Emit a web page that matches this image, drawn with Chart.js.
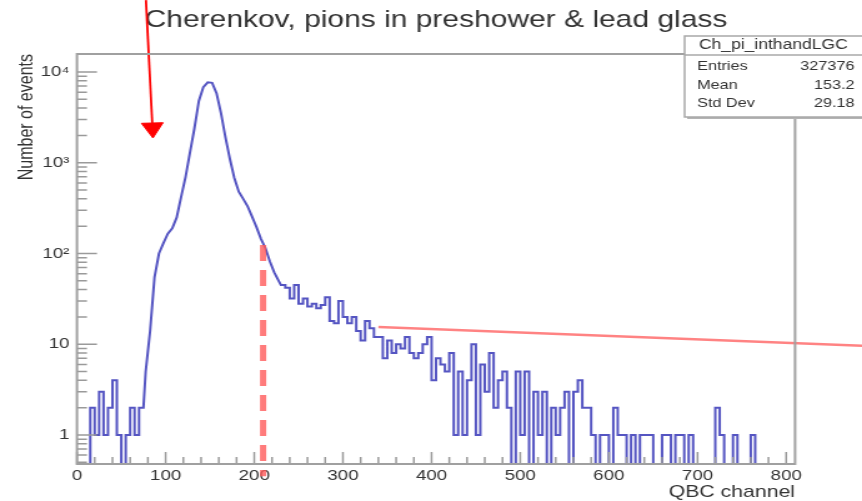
<!DOCTYPE html>
<html>
<head>
<meta charset="utf-8">
<script src="https://cdn.jsdelivr.net/npm/chart.js@4.4.1/dist/chart.umd.min.js"></script>
<style>
  html, body { margin: 0; padding: 0; background: #fff; overflow: hidden; }
  /* the reference picture is a ROOT canvas stretched sideways, so draw narrow and widen */
  #stage { width: 690px; height: 501px; transform: scaleX(1.2493); transform-origin: 0 0; }
</style>
</head>
<body>
<div id="stage"><canvas id="qbc"></canvas></div>
<script>
// QBC spectrum, 5-channel bins starting at channel 0
const binWidth = 5;
const counts = [
  0, 0, 0, 2, 1, 3, 1, 2, 4, 1, 0, 1, 2, 1, 2,
  5, 14, 55, 100, 130, 165, 190, 250, 420, 700, 1300, 2400, 4800, 6800, 7700,
  7600, 5800, 3500, 1900, 1100, 680, 480, 400, 330, 255, 195, 145, 115, 82, 62,
  50, 45, 42, 32, 45, 28, 32, 26, 28, 25, 27, 33, 18, 17, 30,
  20, 17, 20, 14, 11, 18, 15, 12, 12, 7, 11, 8, 10, 9, 12,
  8, 7, 8, 10, 12, 4, 7, 6, 5, 8, 1, 5, 1, 4, 10,
  1, 6, 3, 8, 2, 4, 5, 2, 0, 5, 1, 5, 0, 3, 1,
  3, 0, 2, 1, 2, 3, 0, 3, 4, 2, 2, 1, 0, 1, 1,
  0, 2, 1, 1, 0, 1, 0, 1, 1, 1, 0, 0, 1, 1, 0,
  1, 1, 0, 1, 0, 0, 0, 0, 0, 2, 1, 0, 0, 1, 0,
  0, 0, 1, 0, 0, 0, 0, 0, 0, 0, 0, 0
];

const xTickValues = [0, 100, 200, 300, 400, 500, 600, 700, 800];
const yTickValues = [1, 10, 100, 1000, 10000];
const yTickLabels = ['1', '10', '10²', '10³', '10⁴'];

// cut line, fitted tail and arrow marker, in channel / counts
const cutChannel = [210, 210];
const cutCounts = [124, 0.35];
const fitChannel = [340, 886];
const fitCounts = [15.5, 9.6];
const arrowChannel = [77.8, 85.2];
const arrowCounts = [62000, 2415];

const chartTitle = 'Cherenkov, pions in preshower & lead glass';
const statsName = 'Ch_pi_inthandLGC';
const statsLabels = ['Entries', 'Mean', 'Std Dev'];
const statsValues = ['327376', '153.2', '29.18'];

const fontFamily = "'Liberation Sans', Arial, sans-serif";
const textColor = '#333';
const zeroLevel = 0.1; // empty bins fall below the log axis

// the busy peak is drawn through bin centres (its real bins are finer than ours),
// the sparse edges as plain histogram steps
const smoothFrom = 15;
const smoothTo = 45;
function histogramPath() {
  const pts = [];
  counts.forEach((c, i) => {
    const y = c > 0 ? c : zeroLevel;
    const lo = i * binWidth;
    if (i >= smoothFrom && i <= smoothTo) {
      pts.push({x: lo + binWidth / 2, y});
    } else {
      pts.push({x: lo, y});
      pts.push({x: lo + binWidth, y});
    }
  });
  return pts;
}

const pairs = (xs, ys) => xs.map((v, i) => ({x: v, y: ys[i]}));

// inward ticks, frame, title and the stat box, the way ROOT draws a pad
const rootPadPlugin = {
  id: 'rootPad',
  beforeDatasetsDraw(chart) {
    const ctx = chart.ctx;
    ctx.save();
    ctx.fillStyle = textColor;
    ctx.font = '24px ' + fontFamily;
    ctx.textAlign = 'center';
    ctx.textBaseline = 'middle';
    ctx.fillText(chartTitle, 349, 20);
    ctx.restore();
  },
  afterDatasetsDraw(chart) {
    const {ctx, chartArea: area, scales: {x, y}} = chart;
    ctx.save();
    ctx.strokeStyle = '#9a9a9a';
    ctx.lineWidth = 1.5;
    ctx.beginPath();
    const lastTick = xTickValues[xTickValues.length - 1];
    for (let v = xTickValues[0]; v <= lastTick; v += 20) {
      const px = x.getPixelForValue(v);
      const len = v % 100 === 0 ? 12 : 7;
      ctx.moveTo(px, area.bottom);
      ctx.lineTo(px, area.bottom - len);
    }
    for (let e = -1; e <= 4; e++) {
      for (let m = 1; m < 10; m++) {
        const v = m * Math.pow(10, e);
        if (v < y.min || v > y.max) continue;
        const py = y.getPixelForValue(v);
        ctx.moveTo(area.left, py);
        ctx.lineTo(area.left + (m === 1 ? 16 : 8), py);
      }
    }
    ctx.stroke();
    ctx.lineWidth = 2;
    ctx.strokeStyle = '#a0a0a0';
    ctx.strokeRect(area.left, area.top, area.right - area.left, area.bottom - area.top);
    ctx.restore();
  },
  afterDraw(chart) {
    const ctx = chart.ctx;
    const left = 548, top = 36, right = 700, bottom = 117, headerLine = 55;
    ctx.save();
    // shadow then box
    ctx.fillStyle = '#b4b4b4';
    ctx.fillRect(left + 2, top + 2, right - left, bottom - top);
    ctx.fillStyle = '#fff';
    ctx.fillRect(left, top, right - left, bottom - top);
    ctx.strokeStyle = '#a8a8a8';
    ctx.lineWidth = 1.5;
    ctx.strokeRect(left, top, right - left, bottom - top);
    ctx.beginPath();
    ctx.moveTo(left, headerLine);
    ctx.lineTo(right, headerLine);
    ctx.stroke();

    ctx.fillStyle = textColor;
    ctx.textBaseline = 'middle';
    ctx.textAlign = 'center';
    ctx.font = '14px ' + fontFamily;
    ctx.fillText(statsName, 619, 45);
    ctx.font = '13px ' + fontFamily;
    const rowY = [66, 85, 103];
    statsLabels.forEach((label, i) => {
      ctx.textAlign = 'left';
      ctx.fillText(label, 558, rowY[i]);
      ctx.textAlign = 'right';
      ctx.fillText(statsValues[i], 684, rowY[i]);
    });
    ctx.restore();
  }
};

new Chart(document.getElementById('qbc'), {
  type: 'line',
  data: {
    datasets: [{
      data: histogramPath(),
      borderColor: 'rgba(20, 20, 170, 0.72)',
      borderWidth: 2,
      pointRadius: 0,
      order: 3
    }, {
      data: pairs(cutChannel, cutCounts),
      borderColor: 'rgba(255, 90, 90, 0.8)',
      borderWidth: 5,
      borderDash: [16, 9],
      pointRadius: 0,
      clip: false,
      order: 1
    }, {
      data: pairs(fitChannel, fitCounts),
      borderColor: 'rgba(255, 90, 90, 0.75)',
      borderWidth: 2.5,
      pointRadius: 0,
      clip: false,
      order: 1
    }, {
      data: pairs(arrowChannel, arrowCounts),
      borderColor: '#ff0000',
      borderWidth: 1.8,
      pointStyle: 'triangle',
      pointRadius: [0, 10],
      pointRotation: [0, 178],
      pointBackgroundColor: '#ff0000',
      pointBorderColor: '#ff0000',
      pointBorderWidth: 1,
      clip: false,
      order: 0
    }]
  },
  options: {
    responsive: true,
    maintainAspectRatio: false,
    animation: false,
    events: [],
    layout: {
      padding: {left: 0, top: 54, right: 53.6, bottom: 0}
    },
    plugins: {
      legend: {display: false},
      tooltip: {enabled: false},
      title: {display: false}
    },
    scales: {
      x: {
        type: 'linear',
        min: 0,
        max: 810,
        grid: {display: false, drawTicks: false},
        border: {display: false},
        ticks: {
          color: textColor,
          font: {family: fontFamily, size: 15},
          padding: 3,
          maxRotation: 0,
          autoSkip: false
        },
        title: {
          display: true,
          text: 'QBC channel',
          align: 'end',
          color: textColor,
          font: {family: fontFamily, size: 17, lineHeight: 1},
          padding: {top: 0, bottom: 0}
        },
        afterBuildTicks: (scale) => {
          scale.ticks = xTickValues.map(v => ({value: v}));
        },
        afterFit: (scale) => {
          scale.height = 37;
        }
      },
      y: {
        type: 'logarithmic',
        min: 0.479,
        max: 15790,
        grid: {display: false, drawTicks: false},
        border: {display: false},
        ticks: {
          color: textColor,
          font: {family: fontFamily, size: 15},
          padding: 6,
          callback: (value) => {
            const i = yTickValues.indexOf(value);
            return i >= 0 ? yTickLabels[i] : '';
          }
        },
        title: {
          display: true,
          text: 'Number of events',
          align: 'end',
          color: textColor,
          font: {family: fontFamily, size: 16},
          padding: {top: 12, bottom: 0}
        },
        afterBuildTicks: (scale) => {
          scale.ticks = yTickValues.map(v => ({value: v}));
        },
        afterFit: (scale) => {
          scale.width = 61.6;
        }
      }
    }
  },
  plugins: [rootPadPlugin]
});
</script>
</body>
</html>
